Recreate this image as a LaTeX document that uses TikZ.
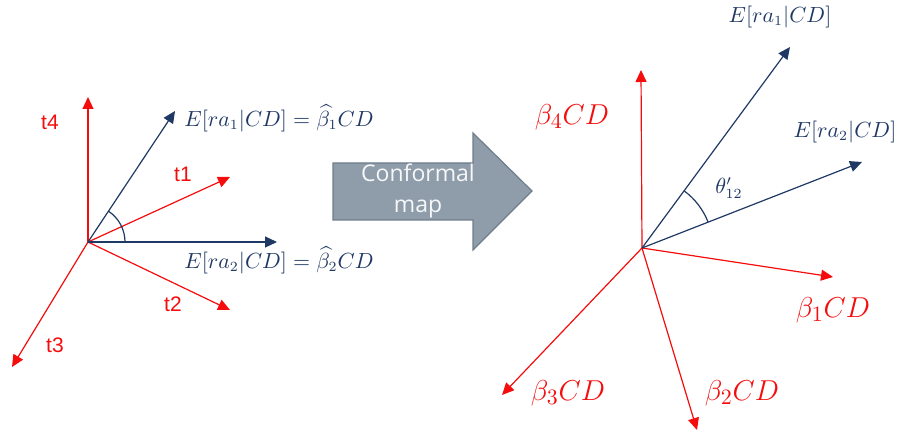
\documentclass[tikz,border=0pt]{standalone}
\usepackage{amsmath}
\usepackage{fontspec}
\setsansfont{Liberation Sans}
\newfontfamily\mapfont{Open Sans}
\usetikzlibrary{arrows.meta,positioning,calc,angles}

\definecolor{vecred}{RGB}{245,12,12}
\definecolor{vecblue}{RGB}{31,56,100}
\definecolor{mapfill}{RGB}{143,157,170}
\definecolor{mapedge}{RGB}{112,126,140}

\begin{document}
\begin{tikzpicture}[x=0.5pt, y=-0.5pt,
    redvec/.style={draw=vecred, line width=0.6pt, -{Triangle[length=6pt, width=5.5pt]}},
    bluevec/.style={draw=vecblue, line width=0.6pt, -{Triangle[length=6pt, width=5.5pt]}},
    anglearc/.style={draw=vecblue, line width=0.6pt},
    tlabel/.style={text=vecred, font=\sffamily\fontsize{10.5}{12}\selectfont},
    elabel/.style={text=vecblue, font=\fontsize{10.5}{12}\selectfont},
    blabel/.style={text=vecred, font=\fontsize{15.5}{18}\selectfont},
    maparrow/.style={fill=mapfill, draw=mapedge, line width=0.6pt},
    maptext/.style={align=center, text=white!92!mapfill, font=\mapfont\fontsize{11.5}{15.5}\selectfont},
]
\useasboundingbox (0,0) rectangle (900,438);

% Left: original space
\coordinate (o1) at (88,242);
\coordinate (t4tip) at (88,97);
\coordinate (t1tip) at (230,177);
\coordinate (t2tip) at (230,310);
\coordinate (t3tip) at (12,367);
\coordinate (e1tip) at (175,111);
\coordinate (e2tip) at (277,242);

\draw[redvec] (o1) -- (t4tip);
\draw[redvec] (o1) -- (t1tip);
\draw[redvec] (o1) -- (t2tip);
\draw[redvec] (o1) -- (t3tip);
\draw[bluevec] (o1) -- (e1tip);
\draw[bluevec] (o1) -- (e2tip);
\pic[anglearc, angle radius=18.5pt] {angle = e2tip--o1--e1tip};

\node[tlabel] (t4) at (50,122) {t4};
\node[tlabel] (t1) at (183,174) {t1};
\node[tlabel] (t2) at (173,304) {t2};
\node[tlabel] (t3) at (55,345) {t3};
\node[elabel] (e1) at (279,118) {$E[ra_1|CD]=\widehat{\beta_1}CD$};
\node[elabel] (e2) at (279,260) {$E[ra_2|CD]=\widehat{\beta_2}CD$};

% Conformal map arrow
\draw[maparrow] (333,163) -- (473,163) -- (473,133) -- (532,191)
    -- (473,250) -- (473,220) -- (333,220) -- cycle;
\node[maptext] (map) at (418,191) {Conformal\\map};

% Right: mapped space
\coordinate (o2) at (642,248);
\coordinate (b4tip) at (641,70);
\coordinate (b1tip) at (833,277);
\coordinate (b2tip) at (697,430);
\coordinate (b3tip) at (502,395);
\coordinate (f1tip) at (790,47);
\coordinate (f2tip) at (862,162);

\draw[redvec] (o2) -- (b4tip);
\draw[redvec] (o2) -- (b1tip);
\draw[redvec] (o2) -- (b2tip);
\draw[redvec] (o2) -- (b3tip);
\draw[bluevec] (o2) -- (f1tip);
\draw[bluevec] (o2) -- (f2tip);
\pic[anglearc, angle radius=35.5pt] {angle = f2tip--o2--f1tip};

\node[elabel] (f1) at (780,17) {$E[ra_1|CD]$};
\node[elabel] (f2) at (845,132) {$E[ra_2|CD]$};
\node[elabel] (theta) at (729,188) {$\theta_{12}'$};
\node[blabel] (b4) at (572,117) {$\beta_4CD$};
\node[blabel] (b1) at (833,310) {$\beta_1CD$};
\node[blabel] (b3) at (568,393) {$\beta_3CD$};
\node[blabel] (b2) at (742,393) {$\beta_2CD$};

\end{tikzpicture}
\end{document}
